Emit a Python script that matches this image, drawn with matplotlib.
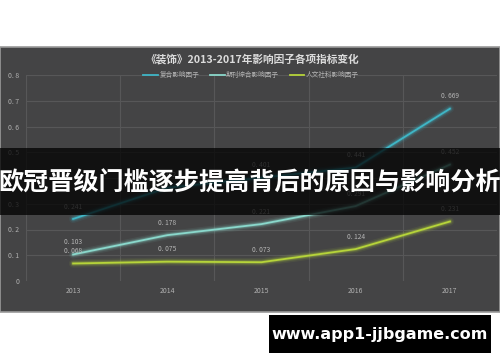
import matplotlib
matplotlib.use("Agg")
import matplotlib.pyplot as plt
from matplotlib.patches import Rectangle
import numpy as np

plt.rcParams['font.family'] = ['Noto Sans CJK SC', 'DejaVu Sans']

years = ['2013', '2014', '2015', '2016', '2017']
series_names = ['复合影响因子', '期刊综合影响因子', '人文社科影响因子']
composite = [0.241, 0.362, 0.401, 0.441, 0.669]
journal = [0.103, 0.178, 0.221, 0.291, 0.452]
humanities = [0.068, 0.075, 0.073, 0.124, 0.231]
yticks = [0, 0.1, 0.2, 0.3, 0.4, 0.5, 0.6, 0.7, 0.8]
title = '《装饰》2013-2017年影响因子各项指标变化'
banner = '欧冠晋级门槛逐步提高背后的原因与影响分析'
watermark = 'www.app1-jjbgame.com'

colors = ['#3fb6c6', '#8ad8cc', '#b6d43a']
W, H = 500, 362
fig = plt.figure(figsize=(W / 100, H / 100), dpi=100)
fig.patch.set_facecolor('white')

# chart panel
panel = Rectangle((0.0, 1 - 312 / H), 1.0, (312 - 47) / H, transform=fig.transFigure,
                  facecolor='#444445', edgecolor='#9a9a9a', linewidth=1.2, zorder=-2)
fig.add_artist(panel)

ax = fig.add_axes([26 / W, 1 - 281 / H, (497 - 26) / W, (281 - 75) / H])
ax.set_facecolor('none')
x = np.arange(len(years))
ax.set_xlim(-0.5, len(years) - 0.5)
ax.set_ylim(0, 0.8)
for s in ax.spines.values():
    s.set_visible(False)
for yv in yticks[1:]:
    ax.axhline(yv, color='#575758', lw=0.8, zorder=0)
for b in np.arange(-0.5, len(years), 1.0):
    ax.axvline(b, color='#575758', lw=0.8, zorder=0)
ax.set_yticks(yticks)
ax.set_yticklabels(['0. ' + ('%g' % v)[2:] if v else '0' for v in yticks])
ax.set_xticks(x)
ax.set_xticklabels(years)
ax.tick_params(length=0, labelsize=5, colors='#b0b0b0', pad=5)
ax.tick_params(axis='x', pad=4)

data = [composite, journal, humanities]
for vals, c, name in zip(data, colors, series_names):
    for lw, a in [(6, 0.08), (4, 0.15), (2.6, 0.25)]:
        ax.plot(x, vals, color=c, lw=lw, alpha=a, solid_capstyle='round', zorder=2)
    ax.plot(x, vals, color=c, lw=1.3, label=name, zorder=3)
    for xi, v in zip(x, vals):
        ax.annotate('0. ' + ('%.3f' % v)[2:], (xi, v), xytext=(0, 6), textcoords='offset points',
                    ha='center', va='bottom', fontsize=4.8, color='#b5b5b5', zorder=4)

leg = ax.legend(loc='center', bbox_to_anchor=(251 / W, 1 - 75 / H), bbox_transform=fig.transFigure,
                ncol=3, frameon=False, fontsize=4.8, handlelength=2.2, handletextpad=0.2,
                columnspacing=1.6)
for t in leg.get_texts():
    t.set_color('#b5b5b5')

fig.text(252 / W, 1 - 59 / H, title, ha='center', va='center', fontsize=7.7,
         fontweight='bold', color='#dcdcdc')

# banner overlay
fig.add_artist(Rectangle((0, 1 - 215 / H), 1, (215 - 148) / H, transform=fig.transFigure,
                         facecolor='black', alpha=0.75, edgecolor='none', zorder=5))
fig.text(0.5, 1 - 183 / H, banner, ha='center', va='center', fontsize=18.1,
         fontweight='heavy', color='white', zorder=6)

# watermark
fig.add_artist(Rectangle((269 / W, 1 - 353 / H), (491 - 269) / W, 38 / H, transform=fig.transFigure,
                         facecolor='black', edgecolor='none', zorder=5))
fig.text(380 / W, 1 - 334 / H, watermark, ha='center', va='center', fontsize=11.5,
         fontweight='bold', color='white', family='DejaVu Sans', zorder=6)

fig.savefig('out.png', dpi=100)
